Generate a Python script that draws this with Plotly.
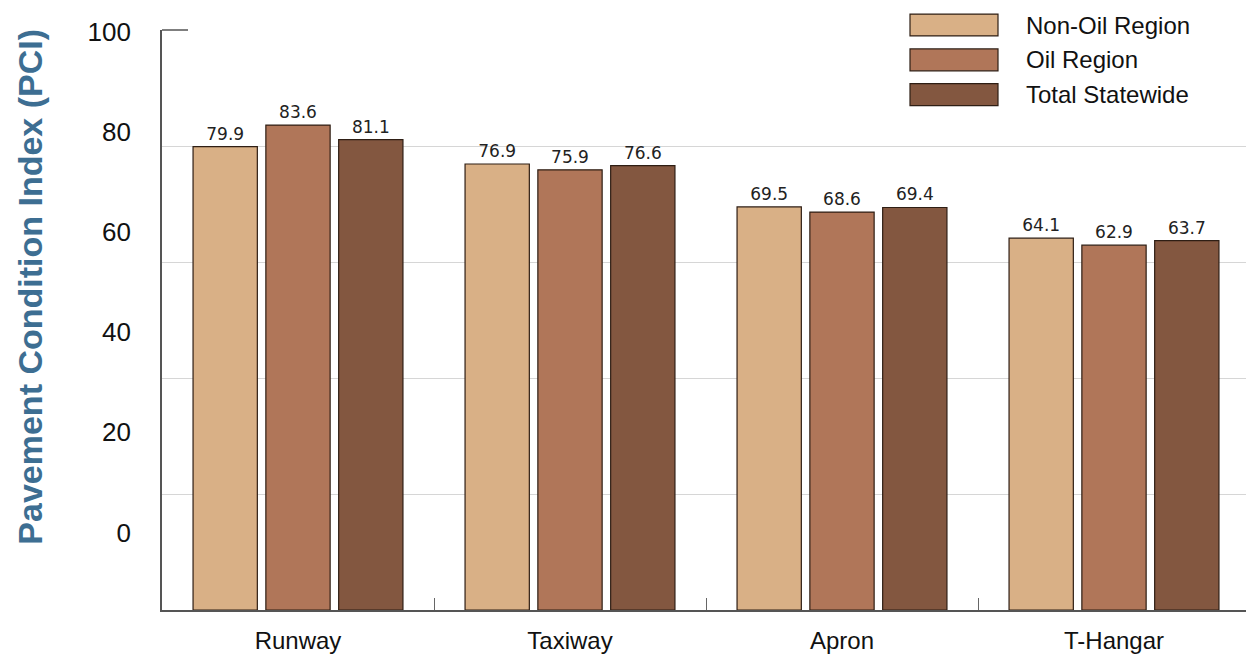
import plotly.graph_objects as go

categories = ["Runway", "Taxiway", "Apron", "T-Hangar"]
series_names = ["Non-Oil Region", "Oil Region", "Total Statewide"]
non_oil = [79.9, 76.9, 69.5, 64.1]
oil = [83.6, 75.9, 68.6, 62.9]
total = [81.1, 76.6, 69.4, 63.7]
tick_labels = [0, 20, 40, 60, 80, 100]

colors = ["#D9B086", "#B07659", "#835740"]
series_values = [non_oil, oil, total]

# page body adds an 8px offset; figure sized to fit the window
OFF = 8
W, H = 1246, 650
L, T = 162 - OFF, 30 - OFF
pw, ph = 1088, 583
R = W - L - pw
B = H - T - ph

def px_x(x):  # screen px -> paper
    return (x - OFF - L) / pw

def px_y(y):
    return (T + ph - (y - OFF)) / ph

fig = go.Figure()
for name, vals, col in zip(series_names, series_values, colors):
    fig.add_trace(go.Bar(
        x=categories, y=vals, name=name,
        marker=dict(color=col, line=dict(color="#2e1e14", width=1.2)),
        text=[f"{v:.1f}" for v in vals], textposition="outside",
        textfont=dict(family="DejaVu Sans", size=17, color="#222222"),
        cliponaxis=False, showlegend=False,
    ))

# secondary axis carrying the (offset) tick labels of the original 3D chart
label_px_per_unit = 5.05
zero_px = 535 - 30  # from plot top
bottom_val = -(ph - zero_px) / label_px_per_unit
top_val = bottom_val + ph / label_px_per_unit + 0.3

font_main = "Liberation Sans, Arial"

fig.update_layout(
    width=W, height=H,
    margin=dict(l=L, r=R, t=T, b=B),
    paper_bgcolor="white", plot_bgcolor="white",
    barmode="group", bargap=0.197, bargroupgap=0.117,
    xaxis=dict(
        showline=True, linecolor="#555555", linewidth=1.5,
        ticks="inside", tickson="boundaries", ticklen=12, tickcolor="#666666",
        tickfont=dict(family=font_main, size=24, color="#111111"),
        ticklabelstandoff=8,
        showgrid=False,
    ),
    yaxis=dict(
        range=[0, 100], tickvals=[20, 40, 60, 80], showticklabels=False,
        showgrid=True, gridcolor="#d6d6d6", gridwidth=1,
        showline=True, linecolor="#555555", linewidth=1.5,
        zeroline=False,
    ),
    yaxis2=dict(
        overlaying="y", side="left", range=[bottom_val, top_val],
        tickvals=tick_labels, ticktext=[str(t) for t in tick_labels],
        showgrid=False, zeroline=False, showline=False,
        ticks="", ticklabelstandoff=30,
        tickfont=dict(family=font_main, size=26, color="#111111"),
    ),
    showlegend=False,
)

# invisible trace to activate the label axis
fig.add_trace(go.Scatter(x=[categories[0]], y=[None], yaxis="y2",
                         showlegend=False, hoverinfo="skip", mode="markers"))

# top stub at 100
fig.add_shape(type="line", xref="paper", yref="paper",
              x0=0, x1=px_x(188), y0=1, y1=1,
              line=dict(color="#555555", width=1.5))

# y title
fig.add_annotation(
    text="Pavement Condition Index (PCI)", textangle=-90,
    xref="paper", yref="paper", x=px_x(30), y=px_y(288),
    xanchor="center", yanchor="middle", showarrow=False,
    font=dict(family=font_main, size=34, color="#3D6E92", weight="bold"),
)

# legend (custom, large swatches)
rows_y = [25, 60, 95]
for name, col, yc in zip(series_names, colors, rows_y):
    fig.add_shape(type="rect", xref="paper", yref="paper",
                  x0=px_x(910), x1=px_x(998), y0=px_y(yc + 11), y1=px_y(yc - 11),
                  fillcolor=col, line=dict(color="#2e1e14", width=1.2))
    fig.add_annotation(text=name, xref="paper", yref="paper",
                       x=px_x(1024), y=px_y(yc), xanchor="left", yanchor="middle",
                       showarrow=False,
                       font=dict(family=font_main, size=24, color="#111111"))

fig.write_html("out.html")
